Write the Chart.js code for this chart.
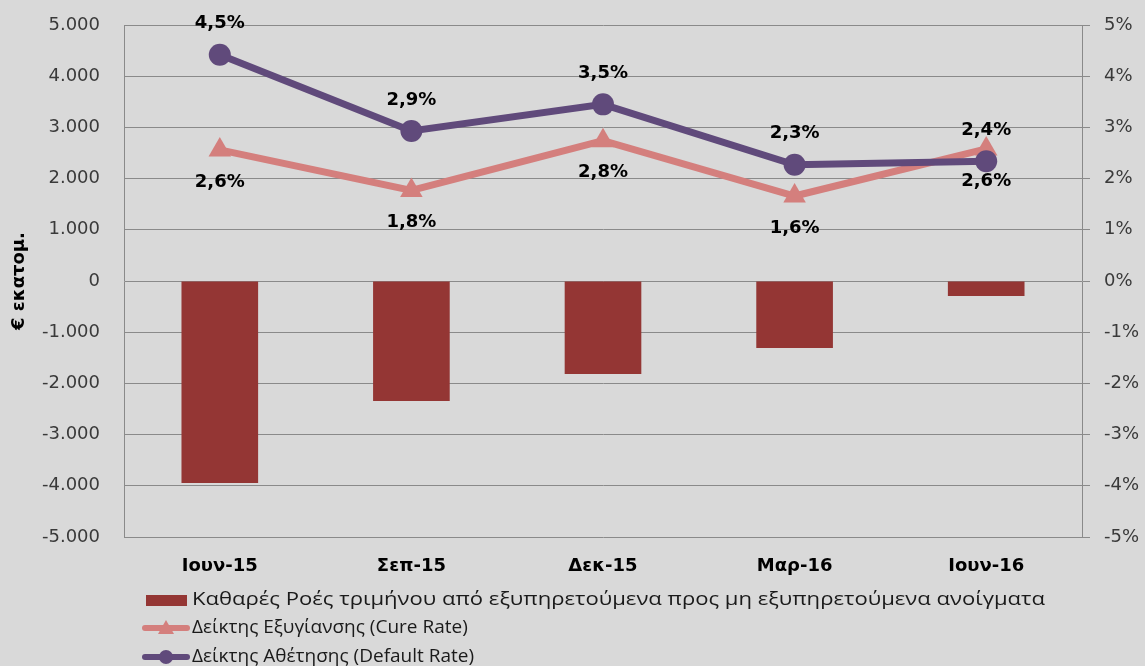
<!DOCTYPE html>
<html>
<head>
<meta charset="utf-8">
<script src="https://cdn.jsdelivr.net/npm/chart.js@4"></script>
<style>
  html, body { margin: 0; padding: 0; background: #d9d9d9; }
  #wrap { width: 1145px; height: 666px; position: relative; }
</style>
</head>
<body>
<div id="wrap"><canvas id="flowChart"></canvas></div>
<script>
// ---- data ----
const quarters = ['Ιουν-15', 'Σεπ-15', 'Δεκ-15', 'Μαρ-16', 'Ιουν-16'];
const netFlows = [-3945, -2345, -1815, -1310, -295];          // € εκατομ.
const cureRate = [2.56, 1.77, 2.74, 1.66, 2.58];               // %
const defaultRate = [4.42, 2.93, 3.45, 2.27, 2.34];            // %
const cureLabels = ['2,6%', '1,8%', '2,8%', '1,6%', '2,6%'];
const defaultLabels = ['4,5%', '2,9%', '3,5%', '2,3%', '2,4%'];

const flowName = 'Καθαρές Ροές τριμήνου από εξυπηρετούμενα προς μη εξυπηρετούμενα ανοίγματα';
const cureName = 'Δείκτης Εξυγίανσης (Cure Rate)';
const defaultName = 'Δείκτης Αθέτησης (Default Rate)';

const BAR_COLOR = '#943634';
const CURE_COLOR = '#d47f7d';
const DEF_COLOR = '#604a7b';
const GRID = '#8a8a8a';
const TICK_COLOR = '#3a3a3a';

function thousands(v) {
  const s = String(Math.abs(v)).replace(/\B(?=(\d{3})+(?!\d))/g, '.');
  return (v < 0 ? '-' : '') + s;
}

// value labels next to the line points
const valueLabelPlugin = {
  id: 'valueLabels',
  afterDatasetsDraw(chart) {
    const ctx = chart.ctx;
    ctx.save();
    ctx.font = 'bold 18px "DejaVu Sans"';
    ctx.fillStyle = '#000';
    ctx.textAlign = 'center';
    ctx.textBaseline = 'middle';
    chart.data.datasets.forEach((ds, i) => {
      if (!ds.valueLabels) return;
      const meta = chart.getDatasetMeta(i);
      meta.data.forEach((pt, j) => {
        ctx.fillText(ds.valueLabels[j], pt.x, pt.y + ds.labelDy);
      });
    });
    ctx.restore();
  }
};

// one legend entry per row, like the original
const stackedLegendPlugin = {
  id: 'stackedLegend',
  afterDraw(chart) {
    const ctx = chart.ctx;
    const rowY = [chart.height - 66, chart.height - 38, chart.height - 9];
    ctx.save();
    ctx.font = '19px "Open Sans"';
    ctx.textBaseline = 'middle';
    chart.data.datasets.forEach((ds, i) => {
      const y = rowY[i];
      if (ds.type === 'bar') {
        ctx.fillStyle = ds.backgroundColor;
        ctx.fillRect(146, y - 5, 41, 11);
      } else {
        ctx.strokeStyle = ds.borderColor;
        ctx.lineWidth = 6;
        ctx.lineCap = 'round';
        ctx.beginPath();
        ctx.moveTo(145, y);
        ctx.lineTo(187, y);
        ctx.stroke();
        ctx.fillStyle = ds.borderColor;
        ctx.beginPath();
        if (ds.pointStyle === 'triangle') {
          ctx.moveTo(166, y - 8);
          ctx.lineTo(174, y + 6);
          ctx.lineTo(158, y + 6);
          ctx.closePath();
        } else {
          ctx.arc(166, y, 7, 0, Math.PI * 2);
        }
        ctx.fill();
      }
      // the long first entry is spread wider in the original
      const stretch = ds.type === 'bar' ? 853 / ctx.measureText(ds.label).width : 1;
      ctx.save();
      ctx.translate(192, y);
      ctx.scale(stretch, 1);
      ctx.fillStyle = '#1a1a1a';
      ctx.fillText(ds.label, 0, 0);
      ctx.restore();
    });
    ctx.restore();
  }
};

function noOverflow(s) {
  s.paddingTop = 0;
  s.paddingBottom = 0;
}

new Chart(document.getElementById('flowChart'), {
  data: {
    labels: quarters,
    datasets: [
      {
        type: 'bar', label: flowName, data: netFlows, yAxisID: 'y',
        backgroundColor: BAR_COLOR, barPercentage: 0.4, categoryPercentage: 1, order: 3
      },
      {
        type: 'line', label: cureName, data: cureRate, yAxisID: 'y1',
        borderColor: CURE_COLOR, backgroundColor: CURE_COLOR, borderWidth: 7,
        pointStyle: 'triangle', pointRadius: 13, pointBorderWidth: 0,
        valueLabels: cureLabels, labelDy: 32, order: 2
      },
      {
        type: 'line', label: defaultName, data: defaultRate, yAxisID: 'y1',
        borderColor: DEF_COLOR, backgroundColor: DEF_COLOR, borderWidth: 7,
        pointStyle: 'circle', pointRadius: 11, pointBorderWidth: 0,
        valueLabels: defaultLabels, labelDy: -31, order: 1
      }
    ]
  },
  options: {
    responsive: true, maintainAspectRatio: false, animation: false,
    layout: { padding: { left: 0, right: 0, top: 25, bottom: 79 } },
    plugins: { legend: { display: false }, tooltip: { enabled: false } },
    scales: {
      x: {
        grid: { display: false }, border: { display: false },
        ticks: { color: '#000', font: { family: 'DejaVu Sans', size: 18, weight: 'bold' }, padding: 11 },
        afterFit(s) { s.height = 50; }
      },
      y: {
        position: 'left', min: -5000, max: 5000,
        ticks: { stepSize: 1000, color: TICK_COLOR, font: { family: 'DejaVu Sans', size: 18 }, padding: 24,
                 callback: v => thousands(v) },
        grid: { color: GRID, drawTicks: false },
        border: { color: GRID },
        title: { display: true, text: '€ εκατομ.', color: '#000',
                 font: { family: 'DejaVu Sans', size: 18, weight: 'bold' }, padding: { top: 9, bottom: 0 } },
        afterFit(s) { s.width = 124; noOverflow(s); }
      },
      y1: {
        position: 'right', min: -5, max: 5,
        ticks: { stepSize: 1, color: TICK_COLOR, font: { family: 'DejaVu Sans', size: 18 }, padding: 14,
                 callback: v => v + '%' },
        grid: { drawOnChartArea: false, color: GRID, tickLength: 8 },
        border: { color: GRID },
        afterFit(s) { s.width = 63; noOverflow(s); }
      }
    }
  },
  plugins: [valueLabelPlugin, stackedLegendPlugin]
});
</script>
</body>
</html>
